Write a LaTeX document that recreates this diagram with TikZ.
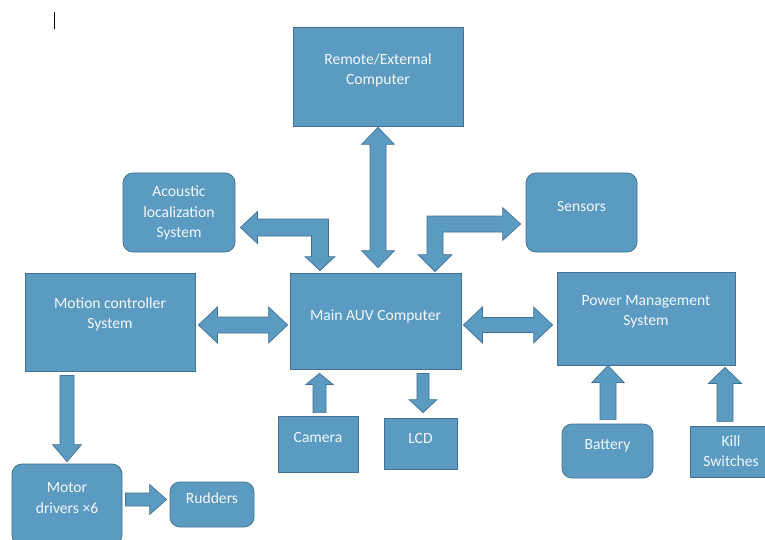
\documentclass[tikz,border=0pt]{standalone}
\usepackage{fontspec}
\setmainfont{Carlito}
\usetikzlibrary{calc}
\definecolor{boxfill}{RGB}{91,155,194}
\definecolor{boxline}{RGB}{65,113,148}
\definecolor{txtc}{RGB}{244,247,250}
\tikzset{
  box/.style={draw=boxline, fill=boxfill, line width=0.8pt, inner sep=0pt},
  rbox/.style={box, rounded corners=10pt},
  txt/.style={text=txtc, font=\fontsize{15.6}{20.2}\selectfont, align=center, inner sep=0pt},
  arr/.style={draw=boxline, fill=boxfill, line width=0.7pt, line join=miter},
}
% single block arrow: from #1 to #2, shaft half width #3, head half width #4, head length #5
\newcommand\blkarrow[5]{%
  \coordinate (hb) at ($(#2)!#5pt!(#1)$);
  \draw[arr] ($(#1)!#3pt!90:(#2)$) -- ($(hb)!#3pt!90:(#2)$) -- ($(hb)!#4pt!90:(#2)$) -- (#2)
    -- ($(hb)!#4pt!-90:(#2)$) -- ($(hb)!#3pt!-90:(#2)$) -- ($(#1)!#3pt!-90:(#2)$) -- cycle;}
% double block arrow between #1 and #2
\newcommand\dblkarrow[5]{%
  \coordinate (ha) at ($(#1)!#5pt!(#2)$);
  \coordinate (hb) at ($(#2)!#5pt!(#1)$);
  \draw[arr] (#1) -- ($(ha)!#4pt!90:(#2)$) -- ($(ha)!#3pt!90:(#2)$) -- ($(hb)!#3pt!90:(#2)$)
    -- ($(hb)!#4pt!90:(#2)$) -- (#2) -- ($(hb)!#4pt!-90:(#2)$) -- ($(hb)!#3pt!-90:(#2)$)
    -- ($(ha)!#3pt!-90:(#2)$) -- ($(ha)!#4pt!-90:(#2)$) -- cycle;}
\begin{document}
\begin{tikzpicture}[x=1pt,y=1pt]
\useasboundingbox (0,0) rectangle (765,539);
\clip (0,0) rectangle (765,539);

% boxes
\node[box, minimum width=170pt, minimum height=99pt,
  label={[txt,yshift=6.5pt]center:{Remote/External\\Computer}}] (remote) at (378,462.5) {};
\node[rbox, minimum width=112pt, minimum height=79pt,
  label={[txt,yshift=-0.5pt]center:{Acoustic\\localization\\System}}] (acoustic) at (179,326.5) {};
\node[rbox, minimum width=111pt, minimum height=79pt,
  label={[txt,yshift=6.5pt]center:{Sensors}}] (sensors) at (581.5,326.5) {};
\node[box, minimum width=171pt, minimum height=96pt,
  label={[txt,yshift=5pt]center:{Main AUV Computer}}] (main) at (375.5,218) {};
\node[box, minimum width=170pt, minimum height=98pt,
  label={[txt,yshift=7.5pt]center:{Motion controller\\System}}] (motion) at (110,217) {};
\node[box, minimum width=178pt, minimum height=93pt,
  label={[txt,yshift=7pt]center:{Power Management\\System}}] (power) at (646,220.5) {};
\node[rbox, minimum width=110pt, minimum height=81pt,
  label={[txt,yshift=6.5pt]center:{Motor\\drivers ×6}}] (motor) at (67,34.5) {};
\node[rbox, minimum width=84pt, minimum height=45pt,
  label={[txt,yshift=6.5pt]center:{Rudders}}] (rudders) at (212,34.5) {};
\node[box, minimum width=80pt, minimum height=56pt,
  label={[txt,yshift=7pt]center:{Camera}}] (camera) at (318,95) {};
\node[box, minimum width=73pt, minimum height=51pt,
  label={[txt,yshift=5.5pt]center:{LCD}}] (lcd) at (420.5,95.5) {};
\node[rbox, minimum width=91pt, minimum height=54pt,
  label={[txt,yshift=5pt]center:{Battery}}] (battery) at (607.5,88) {};
\node[box, minimum width=82pt, minimum height=51pt,
  label={[txt,yshift=0pt]center:{Kill\\Switches}}] (kill) at (731,87.5) {};

% connector end points
\coordinate (r1) at ($(remote.south)+(0,-1)$);
\coordinate (r2) at ($(remote.south |- main.north)+(0,5)$);
\coordinate (m1) at ($(motion.east)+(3,-3)$);
\coordinate (m2) at ($(main.west)+(-2,-4)$);
\coordinate (p1) at ($(main.east)+(2,-4)$);
\coordinate (p2) at ($(power.west)+(-4,-6.5)$);
\coordinate (d1) at ($(motor.north |- motion.south)+(0,-4)$);
\coordinate (d2) at ($(motor.north)+(0,2)$);
\coordinate (u1) at ($(motor.east)+(3,5)$);
\coordinate (u2) at ($(rudders.west)+(-3,5)$);
\coordinate (c1) at ($(camera.north)+(1.5,3)$);
\coordinate (c2) at ($(camera.north |- main.south)+(1.5,-4)$);
\coordinate (l1) at ($(lcd.north |- main.south)+(2.5,-4)$);
\coordinate (l2) at ($(lcd.north)+(2.5,5)$);
\coordinate (b1) at ($(battery.north)+(0.5,4)$);
\coordinate (b2) at ($(battery.north |- power.south)+(0.5,0)$);
\coordinate (k1) at ($(kill.north)+(-6,4)$);
\coordinate (k2) at ($(kill.north |- power.south)+(-6,-2)$);
\coordinate (a1) at ($(acoustic.east)+(5,-15)$);
\coordinate (a2) at ($(main.north)+(-55.5,2)$);
\coordinate (s1) at ($(sensors.west)+(-5,-11.5)$);
\coordinate (s2) at ($(main.north)+(59.5,1)$);

% straight block arrows
\dblkarrow{r1}{r2}{8}{16.5}{17}
\dblkarrow{m1}{m2}{8}{18}{19}
\dblkarrow{p1}{p2}{7.5}{18}{19}
\blkarrow{d1}{d2}{7}{14.5}{17}
\blkarrow{u1}{u2}{6.5}{15}{17}
\blkarrow{c1}{c2}{6.5}{13.5}{11}
\blkarrow{l1}{l2}{6}{14}{13}
\blkarrow{b1}{b2}{8}{16}{17}
\blkarrow{k1}{k2}{8}{16.5}{16}

% bent double arrow: acoustic <-> main
\draw[arr] let \p1=(a1), \p2=(a2) in
  (\p1) -- (\x1+17pt,\y1+16pt) -- (\x1+17pt,\y1+8.5pt) -- (\x2+8.5pt,\y1+8.5pt)
  -- (\x2+8.5pt,\y2+14pt) -- (\x2+15pt,\y2+14pt) -- (\p2) -- (\x2-15pt,\y2+14pt)
  -- (\x2-8.5pt,\y2+14pt) -- (\x2-8.5pt,\y1-8.5pt) -- (\x1+17pt,\y1-8.5pt)
  -- (\x1+17pt,\y1-16pt) -- cycle;
% bent double arrow: sensors <-> main
\draw[arr] let \p1=(s1), \p2=(s2) in
  (\p1) -- (\x1-18pt,\y1+16.5pt) -- (\x1-18pt,\y1+8pt) -- (\x2-8pt,\y1+8pt)
  -- (\x2-8pt,\y2+17pt) -- (\x2-17pt,\y2+17pt) -- (\p2) -- (\x2+17pt,\y2+17pt)
  -- (\x2+8pt,\y2+17pt) -- (\x2+8pt,\y1-8pt) -- (\x1-18pt,\y1-8pt)
  -- (\x1-18pt,\y1-16.5pt) -- cycle;

% stray text cursor mark
\coordinate (cur1) at (54,510);
\coordinate (cur2) at (54,527);
\draw[line width=0.9pt] (cur1) -- (cur2);
\end{tikzpicture}
\end{document}
